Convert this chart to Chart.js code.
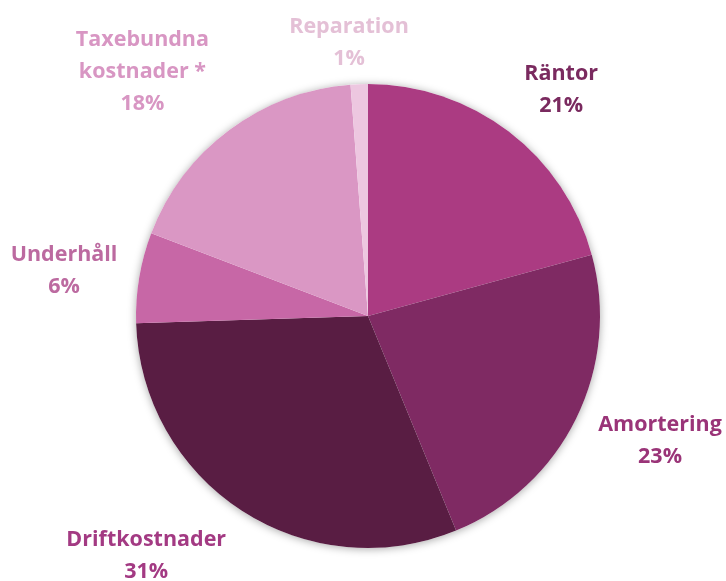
<!DOCTYPE html>
<html>
<head>
<meta charset="utf-8">
<script src="https://cdn.jsdelivr.net/npm/chart.js@4"></script>
<style>
  html, body { margin: 0; padding: 0; background: #fff; }
  #wrap { width: 726px; height: 581px; }
</style>
</head>
<body>
<div id="wrap"><canvas id="costChart" width="726" height="581"></canvas></div>
<script>
// data (share of total cost, %)
const categories = ['Räntor', 'Amortering', 'Driftkostnader', 'Underhåll', 'Taxebundna kostnader *', 'Reparation'];
const shares = [20.75, 23.05, 30.7, 6.3, 18.0, 1.2];

const sliceColors = ['#AB3B82', '#7F2A63', '#591D43', '#C767A6', '#DA97C4', '#EDC7E0'];
const labelColors = ['#7A2A5F', '#9A3478', '#A33A83', '#BC6AA0', '#D896C3', '#E4C0D6'];
// label line breaks (Excel wraps the long one)
const labelLines = [['Räntor'], ['Amortering'], ['Driftkostnader'], ['Underhåll'], ['Taxebundna', 'kostnader *'], ['Reparation']];
// nudges from the default outside position
const labelNudge = [[16, 6], [30, -4], [-63, -5], [-16, 3], [-51, -10], [-8, 19]];

const pieShadow = {
  id: 'pieShadow',
  beforeDatasetsDraw(chart) {
    const arc = chart.getDatasetMeta(0).data[0];
    if (!arc) return;
    const ctx = chart.ctx;
    ctx.save();
    ctx.shadowColor = 'rgba(0,0,0,0.35)';
    ctx.shadowBlur = 9;
    ctx.shadowOffsetX = 0;
    ctx.shadowOffsetY = 1;
    ctx.fillStyle = '#ffffff';
    ctx.beginPath();
    ctx.arc(arc.x, arc.y, arc.outerRadius, 0, Math.PI * 2);
    ctx.fill();
    ctx.restore();
  }
};

const outsideLabels = {
  id: 'outsideLabels',
  afterDatasetsDraw(chart) {
    const ctx = chart.ctx;
    const meta = chart.getDatasetMeta(0);
    const total = shares.reduce((a, b) => a + b, 0);
    ctx.save();
    ctx.font = 'bold 21.5px "Open Sans", Lato, sans-serif';
    ctx.textAlign = 'center';
    ctx.textBaseline = 'middle';
    meta.data.forEach((arc, i) => {
      const mid = (arc.startAngle + arc.endAngle) / 2;
      const r = arc.outerRadius + 60;
      const x = arc.x + Math.cos(mid) * r + labelNudge[i][0];
      const y = arc.y + Math.sin(mid) * r + labelNudge[i][1];
      const lines = labelLines[i].concat([Math.round(shares[i] / total * 100) + '%']);
      const lh = 32;
      const y0 = y - (lines.length - 1) * lh / 2;
      ctx.fillStyle = labelColors[i];
      lines.forEach((t, k) => ctx.fillText(t, x, y0 + k * lh));
    });
    ctx.restore();
  }
};

new Chart(document.getElementById('costChart'), {
  type: 'pie',
  data: {
    labels: categories,
    datasets: [{
      data: shares,
      backgroundColor: sliceColors,
      borderWidth: 0
    }]
  },
  options: {
    responsive: false,
    animation: false,
    layout: { padding: { left: 136, right: 126, top: 84, bottom: 33 } },
    plugins: {
      legend: { display: false },
      tooltip: { enabled: false }
    }
  },
  plugins: [pieShadow, outsideLabels]
});
</script>
</body>
</html>
